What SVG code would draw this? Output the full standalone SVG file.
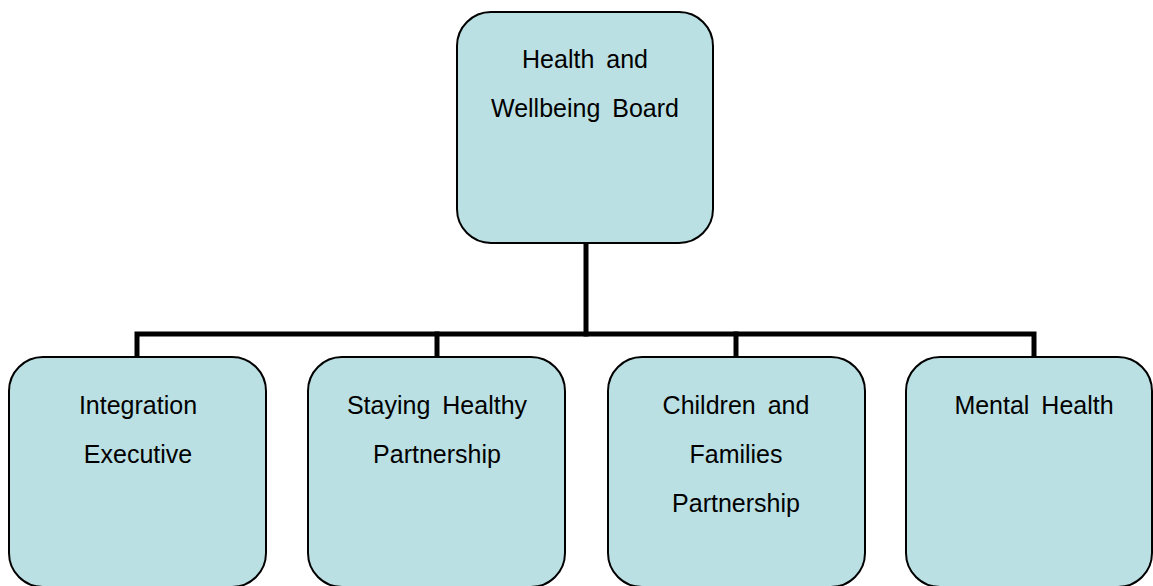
<svg xmlns="http://www.w3.org/2000/svg" width="1153" height="586" viewBox="0 0 1153 586">
<style>
.box{fill:#BBE0E3;stroke:#000;stroke-width:2}
.lbl{font-family:"Liberation Sans",Arial,sans-serif;font-size:25px;fill:#000;text-anchor:middle;word-spacing:5px}
.conn{fill:none;stroke:#000;stroke-width:5;stroke-linecap:square}
</style>
<rect width="1153" height="586" fill="#fff"/>
<g id="connectors">
<path class="conn" d="M586,244 V334"/>
<path class="conn" d="M137,358 V334 H1034 V358"/>
<path class="conn" d="M437,334 V358"/>
<path class="conn" d="M736,334 V358"/>
</g>
<g id="board">
<rect class="box" x="457" y="12" width="256" height="231" rx="34" ry="34"/>
<text class="lbl" x="585" y="68">Health and</text>
<text class="lbl" x="585" y="117">Wellbeing Board</text>
</g>
<g id="integration">
<rect class="box" x="9" y="357" width="257" height="230" rx="34" ry="34"/>
<text class="lbl" x="138" y="414">Integration</text>
<text class="lbl" x="138" y="463">Executive</text>
</g>
<g id="staying">
<rect class="box" x="308" y="357" width="257" height="230" rx="34" ry="34"/>
<text class="lbl" x="437" y="414">Staying Healthy</text>
<text class="lbl" x="437" y="463">Partnership</text>
</g>
<g id="children">
<rect class="box" x="608" y="357" width="257" height="230" rx="34" ry="34"/>
<text class="lbl" x="736" y="414">Children and</text>
<text class="lbl" x="736" y="463">Families</text>
<text class="lbl" x="736" y="512">Partnership</text>
</g>
<g id="mental">
<rect class="box" x="906" y="357" width="246" height="230" rx="34" ry="34"/>
<text class="lbl" x="1034" y="414">Mental Health</text>
</g>
</svg>
